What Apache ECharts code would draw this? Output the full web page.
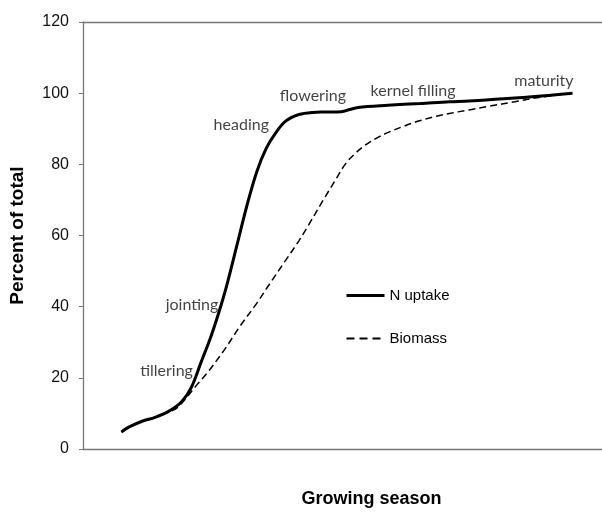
<!DOCTYPE html>
<html>
<head>
<meta charset="utf-8">
<script src="https://cdn.jsdelivr.net/npm/echarts@6/dist/echarts.min.js"></script>
<style>html,body{margin:0;padding:0;background:#fff}#c{width:602px;height:513px}</style>
</head>
<body>
<div id="c"></div>
<script>
// Growing season position (arbitrary units, 0-100) and percent of total
var nUptakeX = [7.4, 8.9, 11.4, 13.9, 16.4, 19.0, 20.9, 22.7, 24.6, 26.2, 27.7, 29.7, 31.6, 33.5, 35.3, 37.2, 39.1, 41.6, 44.2, 46.7, 49.8, 51.4, 53.0, 58.7, 65.0, 70.6, 74.4, 83.9, 94.3];
var nUptakeY = [4.8, 6.2, 7.8, 8.9, 10.5, 13.3, 17.4, 24.2, 31.4, 38.5, 46.0, 57.5, 68.5, 78.0, 84.5, 89.0, 92.2, 94.0, 94.6, 94.7, 94.8, 95.4, 96.0, 96.6, 97.1, 97.6, 97.8, 98.7, 100.0];
var biomassX = [7.4, 8.9, 11.4, 13.9, 16.4, 18.3, 22.1, 24.0, 27.2, 30.3, 33.5, 36.0, 38.8, 41.6, 43.2, 46.1, 48.6, 50.5, 52.4, 54.3, 56.5, 58.7, 61.8, 65.0, 68.1, 70.6, 74.4, 78.2, 83.2, 88.3, 94.3];
var biomassY = [4.8, 6.2, 7.8, 8.9, 10.3, 11.8, 18.3, 21.5, 27.8, 34.6, 41.0, 46.5, 52.5, 58.5, 62.3, 69.5, 75.5, 80.0, 83.0, 85.3, 87.3, 88.9, 90.7, 92.3, 93.5, 94.3, 95.3, 96.3, 97.6, 98.9, 100.0];
var stageNames = ["tillering", "jointing", "heading", "flowering", "kernel filling", "maturity"];
var stageX = [16.1, 21.0, 30.5, 44.3, 63.6, 88.8];
var stageY = [21.9, 40.6, 91.2, 99.2, 100.7, 103.4];
var yTicks = [0, 20, 40, 60, 80, 100, 120];

function pairs(xs, ys) { return xs.map(function (x, i) { return [x, ys[i]]; }); }

var axisColor = '#777777';
var chart = echarts.init(document.getElementById('c'));
chart.setOption({
  animation: false,
  backgroundColor: '#ffffff',
  grid: { left: 73, right: 0, top: 22, bottom: 51 },
  legend: {
    orient: 'vertical',
    left: 340, top: 283,
    itemWidth: 38, itemHeight: 12,
    itemGap: 28,
    itemStyle: { color: 'rgba(0,0,0,0)', borderWidth: 0, opacity: 0 },
    textStyle: { fontFamily: 'Liberation Sans', fontSize: 15, color: '#000' },
    data: [
      { name: 'N uptake', lineStyle: { width: 3 } },
      { name: 'Biomass', lineStyle: { width: 2, type: [8, 5] } }
    ]
  },
  xAxis: [{
    type: 'value', min: 0, max: 100,
    axisLine: { show: true, lineStyle: { color: axisColor, width: 1.3 } },
    axisTick: { show: false }, axisLabel: { show: false }, splitLine: { show: false },
    name: 'Growing season', nameLocation: 'middle', nameGap: 41,
    nameTextStyle: { fontFamily: 'Liberation Sans', fontWeight: 'bold', fontSize: 18, color: '#000', padding: [0, 0, 0, 58] }
  }, {
    type: 'value', min: 0, max: 100, position: 'top',
    axisLine: { show: true, lineStyle: { color: axisColor, width: 1.3 } },
    axisTick: { show: false }, axisLabel: { show: false }, splitLine: { show: false }
  }],
  yAxis: {
    type: 'value', min: yTicks[0], max: yTicks[yTicks.length - 1], interval: 20,
    axisLine: { show: true, lineStyle: { color: axisColor, width: 1.3 } },
    axisTick: { show: true, length: 4, inside: false, lineStyle: { color: axisColor } },
    axisLabel: { margin: 14, fontFamily: 'Liberation Sans', fontSize: 16, color: '#111' },
    splitLine: { show: false },
    name: 'Percent of total', nameLocation: 'middle', nameGap: 56, nameRotate: 90,
    nameTextStyle: { fontFamily: 'Liberation Sans', fontWeight: 'bold', fontSize: 19, color: '#000' }
  },
  series: [{
    name: 'Biomass', type: 'line', smooth: 0.35, symbol: 'none',
    data: pairs(biomassX, biomassY),
    lineStyle: { color: '#000', width: 1.5, type: [7, 4] },
    itemStyle: { color: '#000' }, z: 2
  }, {
    name: 'N uptake', type: 'line', smooth: 0.35, symbol: 'none',
    data: pairs(nUptakeX, nUptakeY),
    lineStyle: { color: '#000', width: 3 },
    itemStyle: { color: '#000' }, z: 3
  }, {
    name: 'stages', type: 'scatter', symbolSize: 0, silent: true,
    data: stageNames.map(function (n, i) { return { value: [stageX[i], stageY[i]], name: n }; }),
    label: {
      show: true, position: 'inside', formatter: function (p) { return p.name; },
      fontFamily: 'Lato', fontSize: 16, color: '#111'
    }, z: 4
  }]
});
</script>
</body>
</html>
